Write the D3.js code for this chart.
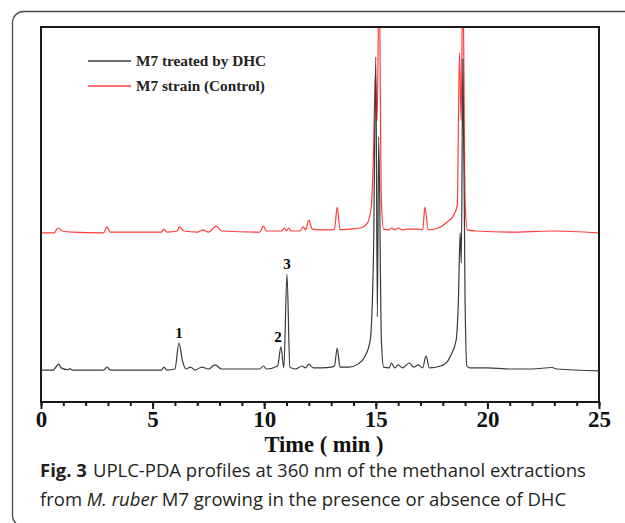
<!DOCTYPE html>
<html>
<head>
<meta charset="utf-8">
<script src="https://cdn.jsdelivr.net/npm/d3@7"></script>
<style>
  body { margin: 0; background: #fff; }
  svg { display: block; }
</style>
</head>
<body>
<div id="chart"></div>
<script>
// Chart size
const width = 625;
const height = 523;

// Retention time (min) and absorbance (arbitrary units) for each trace
const treatedTime = [0, 0.55, 0.7, 0.8, 0.9, 1.2, 1.3, 1.4, 2.8, 2.96, 3.1, 5.4, 5.5, 5.65, 6.0, 6.18, 6.35, 6.5, 6.7, 6.9, 7.2, 7.5, 7.8, 8.1, 9.0, 9.8, 9.96, 10.1, 10.6, 10.75, 10.88, 11.02, 11.15, 11.4, 11.7, 11.85, 12.0, 12.2, 12.6, 13.0, 13.15, 13.27, 13.4, 13.8, 14.2, 14.5, 14.75, 14.9, 15.0, 15.07, 15.13, 15.25, 15.35, 15.6, 15.7, 15.85, 16.0, 16.2, 16.5, 16.7, 16.9, 17.1, 17.25, 17.4, 17.9, 18.2, 18.35, 18.6, 18.7, 18.78, 18.83, 18.9, 19.0, 19.08, 19.2, 20, 21, 22.0, 22.9, 23.1, 25];
const treatedValue = [8.5, 8.5, 9.6, 10.1, 9.1, 8.6, 8.9, 8.5, 8.5, 9.3, 8.5, 8.5, 9.3, 8.5, 8.8, 15.7, 10.7, 8.8, 9.3, 8.5, 9.3, 8.8, 9.9, 8.8, 8.8, 8.8, 9.6, 8.8, 9.6, 14.7, 9.1, 34.1, 9.3, 8.8, 9.6, 9.1, 10.1, 9.1, 9.1, 9.3, 9.6, 14.4, 9.3, 9.3, 10.1, 12.0, 16.5, 40.5, 92.0, 22.7, 70.7, 16.5, 9.3, 9.1, 10.4, 9.1, 9.9, 9.1, 10.4, 9.3, 9.9, 9.1, 12.3, 9.1, 9.6, 10.7, 12.3, 16.5, 27.0, 45.1, 37.0, 91.5, 27.0, 9.6, 9.1, 9.1, 8.8, 8.8, 9.2, 8.8, 8.3];

const controlTime = [0, 0.6, 0.7, 0.8, 0.95, 1.4, 2.8, 2.96, 3.1, 5.4, 5.5, 5.65, 6.1, 6.2, 6.4, 7.0, 7.25, 7.5, 7.85, 8.1, 9.8, 9.96, 10.1, 10.8, 10.9, 11.0, 11.1, 11.2, 11.6, 11.75, 11.85, 12.0, 12.15, 12.5, 13.0, 13.15, 13.27, 13.4, 13.8, 14.3, 14.6, 14.8, 14.9, 14.98, 15.06, 15.15, 15.25, 15.35, 15.6, 15.7, 15.85, 16.0, 16.2, 16.4, 16.9, 17.1, 17.2, 17.35, 17.8, 18.2, 18.5, 18.65, 18.75, 18.82, 18.9, 19.0, 19.1, 19.5, 21, 22.9, 25];
const controlValue = [45.1, 45.1, 46.1, 46.4, 45.6, 45.3, 45.1, 46.7, 45.3, 45.3, 46.1, 45.3, 45.6, 46.7, 45.6, 45.3, 45.9, 45.3, 46.9, 45.6, 45.3, 46.9, 45.6, 45.6, 46.4, 45.6, 46.4, 45.6, 45.6, 46.7, 45.9, 48.5, 46.1, 45.9, 45.9, 46.1, 52.0, 45.9, 46.1, 46.4, 47.5, 52.0, 67.2, 87.7, 75.0, 115, 53.6, 46.1, 45.9, 46.4, 45.9, 46.4, 45.9, 46.1, 46.1, 45.9, 52.0, 45.9, 46.4, 48.0, 49.9, 52.5, 93.1, 75.0, 115, 53.6, 45.9, 45.6, 45.3, 45.6, 45.1];

const seriesNames = ["M7 treated by DHC", "M7 strain (Control)"];
const seriesColors = ["#3a3a3a", "#ff3b3b"];

const xTicksMajor = [0, 5, 10, 15, 20, 25];

// Plot frame
const margin = { left: 41, right: 26, top: 27, bottom: 121 };
const plotW = width - margin.left - margin.right;
const plotH = height - margin.top - margin.bottom;

const svg = d3.select("#chart")
    .append("svg")
    .attr("width", width)
    .attr("height", height);

// outer rounded border of the figure panel
svg.append("rect")
    .attr("x", 12.5)
    .attr("y", 11.5)
    .attr("width", 640)
    .attr("height", 515)
    .attr("rx", 11)
    .attr("fill", "none")
    .attr("stroke", "#4a4a4a")
    .attr("stroke-width", 1.3);

const x = d3.scaleLinear().domain([0, 25]).range([margin.left, margin.left + plotW]);
const y = d3.scaleLinear().domain([0, 100]).range([margin.top + plotH, margin.top]);

svg.append("defs").append("clipPath")
    .attr("id", "plot-clip")
    .append("rect")
    .attr("x", margin.left)
    .attr("y", margin.top)
    .attr("width", plotW)
    .attr("height", plotH);

const line = d3.line()
    .x(d => x(d[0]))
    .y(d => y(d[1]))
    .curve(d3.curveMonotoneX);

const traces = [
    d3.zip(treatedTime, treatedValue),
    d3.zip(controlTime, controlValue)
];

// control first, treated on top
[1, 0].forEach(i => {
    svg.append("path")
        .datum(traces[i])
        .attr("clip-path", "url(#plot-clip)")
        .attr("d", line)
        .attr("fill", "none")
        .attr("stroke", seriesColors[i])
        .attr("stroke-width", 1.2)
        .attr("stroke-linejoin", "round");
});

// peak labels
const peakLabels = ["1", "2", "3"];
const peakTimes = [6.18, 10.75, 11.02];
const peakValues = [15.7, 14.7, 34.1];
const peakShift = [0, -3, 0];
peakLabels.forEach((lab, i) => {
    svg.append("text")
        .attr("x", x(peakTimes[i]) + peakShift[i])
        .attr("y", y(peakValues[i]) - 5)
        .attr("text-anchor", "middle")
        .attr("font-family", "'Liberation Serif', serif")
        .attr("font-weight", "bold")
        .attr("font-size", 15)
        .text(lab);
});

// frame box
svg.append("rect")
    .attr("x", margin.left)
    .attr("y", margin.top)
    .attr("width", plotW)
    .attr("height", plotH)
    .attr("fill", "none")
    .attr("stroke", "#1a1a1a")
    .attr("stroke-width", 2);

// x axis: minor ticks every minute, major with labels
const xAxisMinor = d3.axisBottom(x)
    .tickValues(d3.range(0, 26, 1))
    .tickSize(4)
    .tickFormat("");
svg.append("g")
    .attr("transform", `translate(0,${margin.top + plotH})`)
    .call(xAxisMinor)
    .call(g => g.select(".domain").remove())
    .call(g => g.selectAll("line").attr("stroke", "#1a1a1a").attr("stroke-width", 2));

const xAxisMajor = d3.axisBottom(x)
    .tickValues(xTicksMajor)
    .tickSize(7)
    .tickPadding(2)
    .tickFormat(d3.format("d"));
svg.append("g")
    .attr("transform", `translate(0,${margin.top + plotH})`)
    .call(xAxisMajor)
    .call(g => g.select(".domain").remove())
    .call(g => g.selectAll("line").attr("stroke", "#1a1a1a").attr("stroke-width", 2))
    .call(g => g.selectAll("text")
        .attr("font-family", "'Liberation Serif', serif")
        .attr("font-weight", "bold")
        .attr("font-size", 23)
        .attr("fill", "#111"));

// axis title
svg.append("text")
    .attr("x", margin.left + plotW / 2 + 4)
    .attr("y", 452)
    .attr("text-anchor", "middle")
    .attr("font-family", "'Liberation Serif', serif")
    .attr("font-weight", "bold")
    .attr("font-size", 22.5)
    .attr("fill", "#111")
    .text("Time ( min )");

// legend
const legend = svg.append("g").attr("transform", "translate(88, 61)");
seriesNames.forEach((name, i) => {
    const row = legend.append("g").attr("transform", `translate(0, ${i * 25})`);
    row.append("line")
        .attr("x1", 0).attr("x2", 43)
        .attr("stroke", seriesColors[i])
        .attr("stroke-width", 1.3);
    row.append("text")
        .attr("x", 48)
        .attr("y", 5)
        .attr("font-family", "'Liberation Serif', serif")
        .attr("font-weight", "bold")
        .attr("font-size", 15.3)
        .attr("fill", "#222")
        .text(name);
});

// figure caption
const caption = svg.append("g")
    .attr("font-family", "'Open Sans', 'Noto Sans', sans-serif")
    .attr("font-size", 18.5)
    .attr("fill", "#231f20");

const line1 = caption.append("text").attr("x", 40).attr("y", 477);
line1.append("tspan").attr("font-weight", "bold").text("Fig. 3");
line1.append("tspan").attr("dx", 6).text("UPLC-PDA profiles at 360 nm of the methanol extractions");

const line2 = caption.append("text").attr("x", 40).attr("y", 506);
line2.append("tspan").text("from ");
line2.append("tspan").attr("font-style", "italic").text("M. ruber");
line2.append("tspan").text(" M7 growing in the presence or absence of DHC");
</script>
</body>
</html>
